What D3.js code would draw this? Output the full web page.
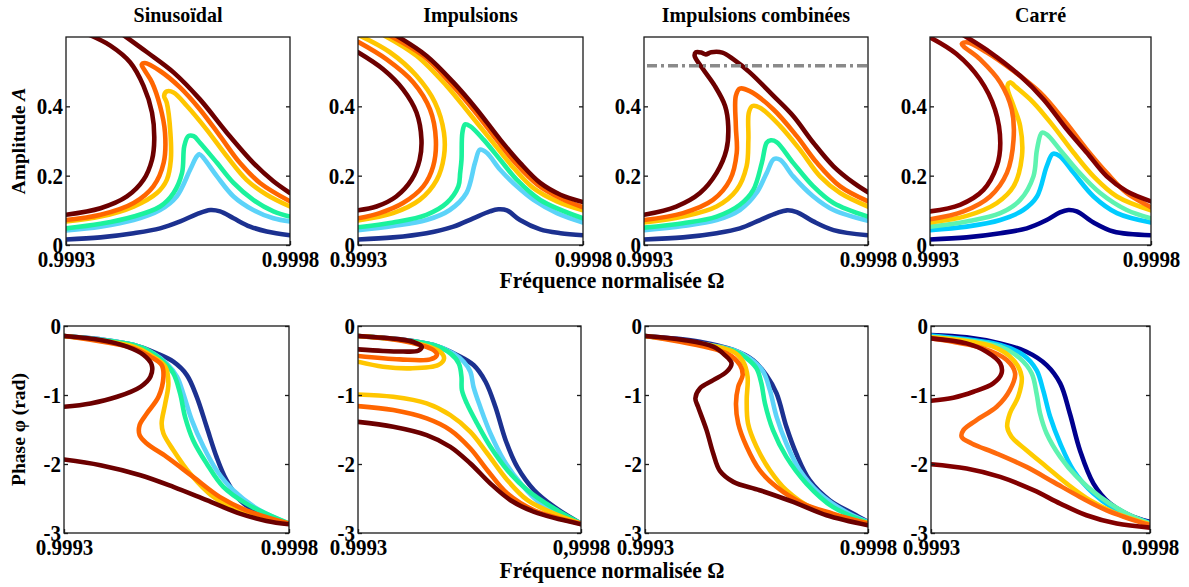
<!DOCTYPE html>
<html><head><meta charset="utf-8">
<script src="https://cdn.jsdelivr.net/npm/d3@7"></script>
<style>
body{margin:0;background:#fff}svg{display:block}
svg text{font-family:'Liberation Serif','DejaVu Serif','Times New Roman',serif !important;font-weight:bold}
svg text.st{transform-box:fill-box;transform-origin:center;transform:scaleY(1.1)}
</style>
</head><body>
<svg id="c" width="1189" height="587"></svg>
<script>
// ---------- DATA ----------
const panelTitles = ["Sinusoïdal", "Impulsions", "Impulsions combinées", "Carré"];
const seriesNames = ["s1", "s2", "s3", "s4", "s5", "s6"];
const xDomain = [0.9993, 0.9998];
const xTickValues = [0.9993, 0.9998];
const xTickLabels = ["0.9993", "0.9998"];
const xTickLabelsPhaseImpuls = ["0.9993", "0,9998"];
const ampDomain = [0, 0.6];
const ampTicks = [0, 0.2, 0.4];
const ampTickLabels = ["0", "0.2", "0.4"];
const phaseDomain = [-3, 0];
const phaseTicks = [0, -1, -2, -3];
const phaseTickLabels = ["0", "-1", "-2", "-3"];
const thresholdCombi = 0.517;

// amplitude curves (Omega, A); null separates branches
const ampSinus = [
  [[0.9993,0.016],[0.999377,0.022],[0.999451,0.034],[0.99951,0.048],[0.999555,0.068],[0.999592,0.089],[0.999622,0.101],[0.999644,0.097],[0.999674,0.077],[0.999711,0.053],[0.999748,0.039],[0.9998,0.028]],
  [[0.9993,0.042],[0.999377,0.053],[0.999451,0.072],[0.99951,0.101],[0.999547,0.14],[0.999577,0.217],[0.999592,0.256],[0.999598,0.262],[0.999607,0.251],[0.999637,0.198],[0.999674,0.14],[0.999718,0.101],[0.999763,0.077],[0.9998,0.068]],
  [[0.9993,0.048],[0.999377,0.061],[0.999451,0.082],[0.99951,0.111],[0.99954,0.15],[0.999559,0.208],[0.999564,0.285],[0.999573,0.314],[0.999585,0.314],[0.999599,0.295],[0.999637,0.237],[0.999674,0.179],[0.999718,0.13],[0.999763,0.097],[0.9998,0.082]],
  [[0.9993,0.068],[0.999377,0.082],[0.999451,0.111],[0.999503,0.15],[0.999525,0.188],[0.999534,0.246],[0.999533,0.324],[0.999525,0.41],[0.999519,0.43],[0.999525,0.443],[0.99954,0.44],[0.99957,0.401],[0.999614,0.333],[0.999659,0.256],[0.999703,0.188],[0.999748,0.145],[0.9998,0.111]],
  [[0.9993,0.072],[0.999377,0.087],[0.999451,0.121],[0.999495,0.169],[0.999518,0.237],[0.999521,0.324],[0.99951,0.401],[0.999492,0.469],[0.999475,0.505],[0.999469,0.52],[0.999476,0.525],[0.99951,0.502],[0.999555,0.454],[0.999599,0.391],[0.999644,0.314],[0.999688,0.237],[0.999733,0.179],[0.9998,0.126]],
  [[0.9993,0.087],[0.999377,0.106],[0.999436,0.14],[0.999473,0.188],[0.999492,0.246],[0.999497,0.304],[0.999492,0.382],[0.999473,0.459],[0.999443,0.527],[0.999399,0.575],[0.999354,0.605],null,[0.999429,0.605],[0.999481,0.556],[0.99954,0.498],[0.999599,0.42],[0.999659,0.324],[0.999718,0.237],[0.999763,0.184],[0.9998,0.15]]
];
const ampImpuls = [
  [[0.9993,0.016],[0.999378,0.022],[0.999452,0.034],[0.999512,0.053],[0.999556,0.077],[0.999593,0.097],[0.999612,0.103],[0.999631,0.1],[0.99966,0.072],[0.999705,0.045],[0.99975,0.034],[0.9998,0.028]],
  [[0.9993,0.043],[0.999378,0.055],[0.999452,0.072],[0.999504,0.101],[0.999541,0.15],[0.99956,0.237],[0.999571,0.275],[0.999586,0.266],[0.999616,0.217],[0.999653,0.169],[0.99969,0.13],[0.999742,0.092],[0.9998,0.065]],
  [[0.9993,0.051],[0.999378,0.065],[0.999452,0.087],[0.999497,0.121],[0.999523,0.169],[0.999527,0.208],[0.99953,0.246],[0.999532,0.324],[0.999538,0.348],[0.999549,0.343],[0.999579,0.304],[0.999616,0.246],[0.999653,0.188],[0.999705,0.13],[0.9998,0.077]],
  [[0.999304,0.604],[0.999371,0.556],[0.99943,0.488],[0.999471,0.411],[0.999491,0.324],[0.999491,0.256],[0.999475,0.188],[0.999437,0.13],[0.999378,0.092],[0.9993,0.071],null,[0.999359,0.604],[0.99943,0.546],[0.999497,0.459],[0.999549,0.377],[0.999601,0.294],[0.999646,0.222],[0.99969,0.164],[0.999742,0.126],[0.9998,0.1]],
  [[0.9993,0.586],[0.999363,0.536],[0.999423,0.469],[0.99946,0.391],[0.999473,0.304],[0.999467,0.227],[0.999445,0.169],[0.9994,0.121],[0.999348,0.092],[0.9993,0.077],null,[0.999371,0.604],[0.999445,0.546],[0.999504,0.469],[0.999556,0.391],[0.999608,0.304],[0.999653,0.232],[0.999698,0.175],[0.99975,0.135],[0.9998,0.109]],
  [[0.9993,0.556],[0.999356,0.507],[0.9994,0.449],[0.99943,0.382],[0.999441,0.304],[0.999437,0.246],[0.999419,0.188],[0.999385,0.14],[0.999341,0.111],[0.9993,0.1],null,[0.999385,0.604],[0.999452,0.546],[0.999512,0.469],[0.999564,0.391],[0.999616,0.304],[0.99966,0.237],[0.999705,0.179],[0.99975,0.145],[0.9998,0.124]]
];
const ampCombi = [
  [[0.9993,0.016],[0.999387,0.022],[0.999462,0.034],[0.999514,0.048],[0.999559,0.072],[0.999596,0.092],[0.999619,0.1],[0.999641,0.095],[0.999678,0.068],[0.999723,0.043],[0.9998,0.028]],
  [[0.9993,0.043],[0.999387,0.055],[0.999462,0.072],[0.999514,0.101],[0.999551,0.15],[0.999574,0.208],[0.99959,0.248],[0.999604,0.246],[0.999633,0.198],[0.999678,0.14],[0.999723,0.101],[0.9998,0.07]],
  [[0.9993,0.05],[0.999387,0.063],[0.999462,0.082],[0.999514,0.116],[0.999544,0.159],[0.999563,0.237],[0.999574,0.295],[0.999583,0.302],[0.999596,0.297],[0.999633,0.237],[0.999678,0.169],[0.999723,0.121],[0.9998,0.082]],
  [[0.9993,0.065],[0.999387,0.082],[0.999462,0.111],[0.999507,0.159],[0.999529,0.227],[0.999533,0.304],[0.999534,0.382],[0.999542,0.401],[0.999559,0.396],[0.999604,0.343],[0.999648,0.275],[0.999693,0.198],[0.999738,0.15],[0.9998,0.111]],
  [[0.9993,0.072],[0.999387,0.092],[0.999454,0.13],[0.999492,0.188],[0.999507,0.266],[0.999505,0.343],[0.999505,0.43],[0.999514,0.451],[0.999536,0.444],[0.999589,0.391],[0.999641,0.314],[0.999686,0.237],[0.999738,0.169],[0.9998,0.126]],
  [[0.9993,0.087],[0.999372,0.111],[0.999425,0.15],[0.999462,0.208],[0.999484,0.275],[0.999488,0.343],[0.999481,0.401],[0.999458,0.459],[0.999432,0.507],[0.999413,0.546],[0.999416,0.556],[0.999428,0.555],[0.999438,0.55],[0.99945,0.556],[0.999475,0.555],[0.999499,0.536],[0.999536,0.498],[0.999589,0.43],[0.999633,0.372],[0.999678,0.295],[0.999723,0.227],[0.999768,0.179],[0.9998,0.152]]
];
const ampCarre = [
  [[0.9993,0.016],[0.999383,0.022],[0.999459,0.034],[0.999519,0.048],[0.999564,0.072],[0.999594,0.094],[0.999613,0.101],[0.999632,0.097],[0.99967,0.065],[0.999715,0.039],[0.9998,0.028]],
  [[0.9993,0.043],[0.999383,0.053],[0.999459,0.072],[0.999511,0.101],[0.999542,0.14],[0.999564,0.227],[0.999578,0.263],[0.999594,0.256],[0.999625,0.208],[0.99967,0.14],[0.999723,0.092],[0.9998,0.065]],
  [[0.9993,0.053],[0.999383,0.068],[0.999459,0.092],[0.999504,0.13],[0.999534,0.198],[0.999542,0.275],[0.999553,0.324],[0.999564,0.319],[0.999594,0.275],[0.999632,0.217],[0.999685,0.15],[0.999745,0.101],[0.9998,0.077]],
  [[0.9993,0.065],[0.999383,0.084],[0.999451,0.121],[0.999489,0.169],[0.999508,0.256],[0.999504,0.343],[0.999489,0.401],[0.999475,0.457],[0.999481,0.469],[0.999496,0.454],[0.999534,0.411],[0.999579,0.343],[0.999625,0.266],[0.99967,0.198],[0.999723,0.14],[0.9998,0.1]],
  [[0.9993,0.074],[0.999376,0.097],[0.999436,0.14],[0.999474,0.208],[0.999489,0.304],[0.999485,0.391],[0.999459,0.469],[0.999413,0.536],[0.999372,0.58],[0.999383,0.585],[0.999428,0.556],[0.999489,0.502],[0.999549,0.44],[0.999602,0.362],[0.999655,0.275],[0.9997,0.208],[0.999745,0.15],[0.9998,0.109]],
  [[0.9993,0.599],[0.99936,0.551],[0.999413,0.478],[0.999447,0.391],[0.999459,0.295],[0.999451,0.227],[0.999421,0.159],[0.999368,0.116],[0.9993,0.097],null,[0.999376,0.605],[0.999436,0.556],[0.999504,0.488],[0.999557,0.42],[0.99961,0.333],[0.999655,0.266],[0.9997,0.198],[0.999745,0.155],[0.9998,0.126]]
];

// phase curves (Omega, phi)
const phaseSinus = [
  [[0.9993,-0.145],[0.999381,-0.194],[0.999455,-0.276],[0.999506,-0.397],[0.999543,-0.518],[0.999573,-0.711],[0.999595,-1.026],[0.999617,-1.461],[0.999639,-1.897],[0.999661,-2.235],[0.999691,-2.525],[0.999735,-2.719],[0.9998,-2.864]],
  [[0.9993,-0.145],[0.999381,-0.194],[0.999455,-0.276],[0.999499,-0.397],[0.999528,-0.542],[0.999551,-0.735],[0.999565,-0.977],[0.999584,-1.364],[0.99961,-1.751],[0.999639,-2.09],[0.999676,-2.38],[0.999735,-2.671],[0.9998,-2.864]],
  [[0.9993,-0.145],[0.999455,-0.276],[0.999492,-0.373],[0.999521,-0.518],[0.999543,-0.687],[0.999558,-0.977],[0.999569,-1.316],[0.999587,-1.655],[0.999617,-1.993],[0.999654,-2.332],[0.999705,-2.574],[0.9998,-2.864]],
  [[0.9993,-0.145],[0.999455,-0.3],[0.999492,-0.421],[0.999525,-0.59],[0.999532,-0.832],[0.999525,-1.122],[0.999517,-1.413],[0.999521,-1.558],[0.999543,-1.8],[0.99958,-2.138],[0.999632,-2.477],[0.999691,-2.671],[0.9998,-2.864]],
  [[0.9993,-0.145],[0.999455,-0.324],[0.999492,-0.445],[0.999517,-0.566],[0.999521,-0.735],[0.99951,-1.026],[0.999484,-1.268],[0.999468,-1.437],[0.999468,-1.582],[0.999484,-1.703],[0.999528,-1.897],[0.999587,-2.187],[0.999646,-2.477],[0.999705,-2.671],[0.9998,-2.864]],
  [[0.9993,-0.145],[0.999381,-0.203],[0.99944,-0.3],[0.999477,-0.421],[0.999495,-0.566],[0.999492,-0.735],[0.99947,-0.881],[0.999418,-1.026],[0.999359,-1.122],[0.9993,-1.171],null,[0.9993,-1.935],[0.999381,-2.017],[0.99947,-2.163],[0.999543,-2.332],[0.999617,-2.525],[0.999691,-2.719],[0.99975,-2.825],[0.9998,-2.874]]
];
const phaseImpuls = [
  [[0.9993,-0.145],[0.999394,-0.194],[0.999469,-0.276],[0.999522,-0.421],[0.999559,-0.566],[0.999586,-0.808],[0.999608,-1.171],[0.999631,-1.655],[0.999657,-2.042],[0.999695,-2.38],[0.99974,-2.622],[0.9998,-2.864]],
  [[0.9993,-0.145],[0.999469,-0.276],[0.999514,-0.397],[0.999537,-0.518],[0.999552,-0.663],[0.999559,-0.881],[0.999574,-1.171],[0.999597,-1.558],[0.999627,-1.945],[0.999665,-2.284],[0.99971,-2.574],[0.9998,-2.864]],
  [[0.9993,-0.145],[0.999469,-0.276],[0.999507,-0.397],[0.999526,-0.542],[0.999532,-0.735],[0.999533,-0.929],[0.999544,-1.122],[0.999567,-1.413],[0.999597,-1.751],[0.999635,-2.09],[0.99968,-2.38],[0.99974,-2.646],[0.9998,-2.864]],
  [[0.9993,-0.145],[0.999417,-0.227],[0.999484,-0.373],[0.999493,-0.469],[0.99948,-0.566],[0.999417,-0.614],[0.999356,-0.59],[0.9993,-0.518],null,[0.9993,-0.992],[0.999379,-1.026],[0.999454,-1.122],[0.999507,-1.292],[0.999552,-1.534],[0.99959,-1.848],[0.999635,-2.235],[0.99968,-2.525],[0.99974,-2.719],[0.9998,-2.864]],
  [[0.9993,-0.145],[0.999409,-0.227],[0.999469,-0.348],[0.999477,-0.421],[0.999462,-0.484],[0.999394,-0.484],[0.9993,-0.435],null,[0.9993,-1.161],[0.999379,-1.219],[0.999454,-1.34],[0.999507,-1.509],[0.999552,-1.776],[0.99959,-2.09],[0.999635,-2.429],[0.999695,-2.671],[0.9998,-2.864]],
  [[0.9993,-0.145],[0.999394,-0.194],[0.999424,-0.232],[0.999443,-0.3],[0.999435,-0.358],[0.9994,-0.37],[0.999356,-0.362],[0.9993,-0.339],null,[0.9993,-1.389],[0.999379,-1.461],[0.999454,-1.582],[0.999507,-1.751],[0.999552,-1.993],[0.999597,-2.284],[0.999642,-2.525],[0.999695,-2.695],[0.9998,-2.874]]
];
const phaseCombi = [
  [[0.9993,-0.145],[0.999423,-0.227],[0.999498,-0.348],[0.999542,-0.493],[0.999572,-0.711],[0.999595,-0.977],[0.999617,-1.461],[0.999639,-1.848],[0.999669,-2.235],[0.999714,-2.525],[0.999766,-2.719],[0.9998,-2.84]],
  [[0.9993,-0.145],[0.999498,-0.348],[0.999535,-0.469],[0.999565,-0.663],[0.99958,-0.929],[0.999595,-1.316],[0.999617,-1.703],[0.999647,-2.09],[0.999692,-2.429],[0.999751,-2.695],[0.9998,-2.84]],
  [[0.9993,-0.145],[0.999498,-0.358],[0.999528,-0.469],[0.99955,-0.614],[0.999561,-0.832],[0.999569,-1.122],[0.999587,-1.509],[0.999617,-1.897],[0.999662,-2.284],[0.999721,-2.622],[0.9998,-2.85]],
  [[0.9993,-0.145],[0.999498,-0.373],[0.99952,-0.518],[0.99953,-0.735],[0.999528,-1.074],[0.999531,-1.413],[0.99955,-1.751],[0.99958,-2.09],[0.999617,-2.38],[0.999677,-2.646],[0.9998,-2.854]],
  [[0.9993,-0.145],[0.999483,-0.397],[0.999513,-0.566],[0.999519,-0.711],[0.999509,-0.881],[0.999504,-1.122],[0.999509,-1.413],[0.999528,-1.751],[0.999557,-2.09],[0.999595,-2.332],[0.999654,-2.574],[0.999721,-2.719],[0.9998,-2.864]],
  [[0.9993,-0.145],[0.999386,-0.203],[0.999453,-0.3],[0.999479,-0.421],[0.999494,-0.542],[0.999483,-0.663],[0.999453,-0.784],[0.999423,-0.905],[0.999413,-1.05],[0.999419,-1.171],[0.999438,-1.509],[0.999453,-1.848],[0.999468,-2.1],[0.999498,-2.259],[0.999557,-2.38],[0.999632,-2.55],[0.999707,-2.743],[0.9998,-2.888]]
];
const phaseCarre = [
  [[0.9993,-0.13],[0.999381,-0.164],[0.999458,-0.252],[0.999518,-0.373],[0.999564,-0.566],[0.999595,-0.832],[0.999617,-1.268],[0.99964,-1.8],[0.999671,-2.284],[0.999709,-2.574],[0.999754,-2.743],[0.9998,-2.84]],
  [[0.9993,-0.14],[0.999458,-0.276],[0.999511,-0.421],[0.999541,-0.639],[0.999556,-0.929],[0.999572,-1.316],[0.999595,-1.703],[0.999625,-2.09],[0.999671,-2.429],[0.999724,-2.671],[0.9998,-2.854]],
  [[0.9993,-0.155],[0.999458,-0.3],[0.999503,-0.469],[0.99953,-0.687],[0.999541,-0.977],[0.999549,-1.268],[0.999564,-1.558],[0.999595,-1.897],[0.999633,-2.187],[0.999686,-2.477],[0.999747,-2.719],[0.9998,-2.864]],
  [[0.9993,-0.164],[0.999442,-0.3],[0.999488,-0.493],[0.999507,-0.735],[0.999499,-1.026],[0.99948,-1.268],[0.999474,-1.461],[0.999484,-1.606],[0.999518,-1.8],[0.999564,-2.042],[0.99961,-2.284],[0.999663,-2.525],[0.999724,-2.719],[0.9998,-2.874]],
  [[0.9993,-0.179],[0.999419,-0.324],[0.999473,-0.493],[0.999492,-0.687],[0.99948,-0.929],[0.99945,-1.171],[0.999404,-1.364],[0.999374,-1.509],[0.99937,-1.606],[0.999393,-1.703],[0.99945,-1.848],[0.999518,-2.042],[0.999579,-2.259],[0.99964,-2.477],[0.999701,-2.671],[0.9998,-2.888]],
  [[0.9993,-0.179],[0.999381,-0.252],[0.999427,-0.373],[0.999458,-0.542],[0.999461,-0.687],[0.999442,-0.832],[0.999397,-0.953],[0.999351,-1.04],[0.9993,-1.084],null,[0.9993,-2.003],[0.999381,-2.066],[0.999458,-2.187],[0.999534,-2.38],[0.999595,-2.574],[0.999655,-2.743],[0.999724,-2.864],[0.9998,-2.922]]
];

// ---------- STYLE / LAYOUT ----------
const palette = ["#1c3190", "#5cd3f9", "#1bf29c", "#ffc600", "#ff6500", "#6c0000"];
const paletteCarre = ["#00008e", "#00ccff", "#5ef3b0", "#ffcc00", "#ff6a0c", "#820000"];
const FONT = "Liberation Serif, DejaVu Serif, serif";

const svg = d3.select("#c");
const rows = [
  { y0: 37, y1: 245, cols: [[66,290],[358,583],[644,868],[930,1151]], domain: ampDomain,
    ticks: ampTicks, labels: ampTickLabels, data: [ampSinus, ampImpuls, ampCombi, ampCarre],
    xl: [xTickLabels, xTickLabels, xTickLabels, xTickLabels] },
  { y0: 326, y1: 533, cols: [[64,289],[358,581],[645,868],[931,1150]], domain: phaseDomain,
    ticks: phaseTicks, labels: phaseTickLabels, data: [phaseSinus, phaseImpuls, phaseCombi, phaseCarre],
    xl: [xTickLabels, xTickLabelsPhaseImpuls, xTickLabels, xTickLabels] }
];

const defs = svg.append("defs");

rows.forEach((row, ri) => {
  row.cols.forEach(([l, r], pi) => {
    const x = d3.scaleLinear().domain(xDomain).range([l, r]);
    const y = d3.scaleLinear().domain(row.domain).range([row.y1, row.y0]);
    const id = "clip" + ri + pi;
    defs.append("clipPath").attr("id", id).append("rect")
      .attr("x", l).attr("y", row.y0).attr("width", r - l).attr("height", row.y1 - row.y0);
    const g = svg.append("g");
    const pal = pi === 3 ? paletteCarre : palette;
    const line = d3.line().defined(d => d !== null)
      .x(d => x(d[0])).y(d => y(d[1]))
      .curve(d3.curveCatmullRom.alpha(0.5));
    const cg = g.append("g").attr("clip-path", `url(#${id})`);
    cg.selectAll("path.s").data(row.data[pi]).join("path")
      .attr("class", "s")
      .attr("d", d => line(d))
      .attr("fill", "none")
      .attr("stroke", (d, i) => pal[i])
      .attr("stroke-width", 4.6)
      .attr("stroke-linejoin", "round")
      .attr("stroke-linecap", "round");
    if (ri === 0 && pi === 2) {
      cg.append("line")
        .attr("x1", x(xDomain[0]) + 3).attr("x2", x(xDomain[1]))
        .attr("y1", y(thresholdCombi)).attr("y2", y(thresholdCombi))
        .attr("stroke", "#8a8a8a").attr("stroke-width", 3.5)
        .attr("stroke-dasharray", "10,4,3,4");
    }
    // frame
    g.append("rect").attr("x", l).attr("y", row.y0).attr("width", r - l).attr("height", row.y1 - row.y0)
      .attr("fill", "none").attr("stroke", "#1a1a1a").attr("stroke-width", 1.3);
    // axes
    const styleAxis = sel => {
      sel.select(".domain").remove();
      sel.selectAll(".tick line").attr("stroke", "#1a1a1a").attr("stroke-width", 1.3);
      sel.attr("font-family", FONT).attr("font-size", 21).attr("font-weight", "bold");
      sel.selectAll("text").attr("fill", "#000").attr("class", "st");
    };
    g.append("g").attr("transform", `translate(${l},0)`)
      .call(d3.axisLeft(y).tickValues(row.ticks).tickFormat((d, i) => row.labels[i]).tickSize(-4).tickPadding(3))
      .call(styleAxis);
    g.append("g").attr("transform", `translate(${r},0)`)
      .call(d3.axisRight(y).tickValues(row.ticks).tickFormat("").tickSize(-4))
      .call(styleAxis);
    g.append("g").attr("transform", `translate(0,${row.y1})`)
      .call(d3.axisBottom(x).tickValues(xTickValues).tickFormat((d, i) => row.xl[pi][i]).tickSize(-4).tickPadding(6))
      .call(styleAxis);
    if (ri === 0) {
      g.append("text").attr("class", "st").attr("x", (l + r) / 2).attr("y", 21)
        .attr("text-anchor", "middle").attr("font-family", FONT).attr("font-size", 20)
        .attr("font-weight", "bold").text(panelTitles[pi]);
    }
  });
});

// axis titles
const amp = svg.append("text")
  .attr("transform", `translate(25,${(rows[0].y0 + rows[0].y1) / 2}) rotate(-90)`)
  .attr("text-anchor", "middle").attr("font-family", FONT).attr("font-size", 19.5).attr("font-weight", "bold");
amp.append("tspan").text("Amplitude ");
amp.append("tspan").attr("font-style", "italic").text("A");
svg.append("text")
  .attr("transform", `translate(25,${(rows[1].y0 + rows[1].y1) / 2}) rotate(-90)`)
  .attr("text-anchor", "middle").attr("font-family", FONT).attr("font-size", 19.5).attr("font-weight", "bold")
  .text("Phase φ (rad)");
[287, 577].forEach(yb => {
  svg.append("text").attr("class", "st").attr("x", 612).attr("y", yb)
    .attr("text-anchor", "middle").attr("font-family", FONT).attr("font-size", 21.5).attr("font-weight", "bold")
    .text("Fréquence normalisée Ω");
});
</script>
</body></html>
